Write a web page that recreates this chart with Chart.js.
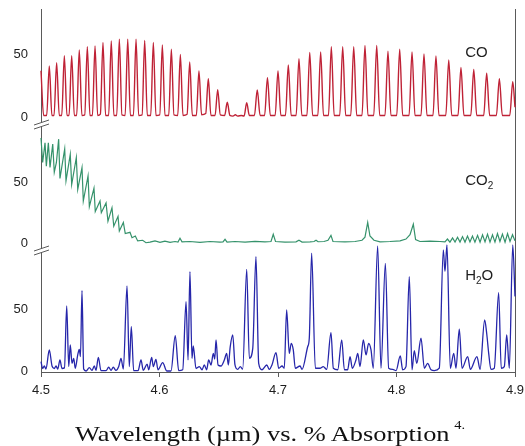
<!DOCTYPE html>
<html><head><meta charset="utf-8">
<script src="https://cdn.jsdelivr.net/npm/chart.js@4.4.1/dist/chart.umd.min.js"></script>
<style>
html,body{margin:0;padding:0;background:#fff;}
#wrap{position:relative;width:525px;height:446px;overflow:hidden;background:#fff;}
#chart{position:absolute;left:0;top:0;}
#caption{position:absolute;left:75px;top:423px;font-family:"Liberation Serif","Times New Roman",serif;font-size:22px;line-height:22px;color:#111;white-space:nowrap;transform:scaleX(1.2);transform-origin:0 0;}
#caption sup{font-size:12px;line-height:0;vertical-align:12px;margin-left:4px;}
</style></head>
<body>
<div id="wrap">
<canvas id="chart" width="525" height="446" style="width:525px;height:446px"></canvas>
<div id="caption">Wavelength (µm) vs. % Absorption<sup>4.</sup></div>
</div>
<script>
// ---- data: [wavelength (µm), % absorption] ----
const xTicks = [4.5, 4.6, 4.7, 4.8, 4.9];
const yTicks = [0, 50];

const coPoints = [
[4.5000,37],[4.5022,1.5],[4.5048,1.5],[4.5070,40.7],[4.5092,1.5],
[4.5110,1.5],[4.5132,43.4],[4.5154,1.5],[4.5175,1.5],[4.5197,49],[4.5219,1.5],
[4.5237,1.5],[4.5259,49],[4.5281,1.5],[4.5301,1.5],[4.5323,53.4],[4.5345,1.5],
[4.5369,2],[4.5391,56],[4.5413,1.5],[4.5434,1.5],[4.5456,56.6],[4.5478,1.5],
[4.5501,2.5],[4.5523,59.5],[4.5545,1.5],[4.5571,1.5],[4.5593,60.6],[4.5615,1.5],
[4.5639,1.5],[4.5661,62],[4.5683,2],[4.5710,1.5],[4.5732,62],[4.5754,1.5],
[4.5780,1.5],[4.5802,62],[4.5824,1.5],[4.5853,2],[4.5875,61],[4.5897,1.5],
[4.5926,1.5],[4.5948,59.5],[4.5970,1.5],[4.6002,2],[4.6024,57.4],[4.6046,1.5],
[4.6078,1.5],[4.6100,54],[4.6122,2],[4.6154,1.5],[4.6176,50],[4.6198,1.5],
[4.6233,2.5],[4.6255,44],[4.6277,1.5],[4.6311,1.5],[4.6333,36.8],[4.6355,2],
[4.6390,3],[4.6412,30.7],[4.6434,1.5],[4.6469,1.5],[4.6491,22],[4.6513,2],
[4.6550,1.5],[4.6572,12],[4.6594,1.5],[4.6620,1],[4.6640,2],[4.6660,1],[4.6690,1.5],
[4.6714,1],[4.6736,11.6],[4.6758,1.5],[4.6801,1.5],[4.6825,21.7],[4.6849,1.5],
[4.6887,1.5],[4.6911,31.5],[4.6935,1.5],[4.6976,1.5],[4.7000,36.8],[4.7024,1.5],
[4.7063,1.5],[4.7087,41.5],[4.7111,1.5],[4.7153,1.5],[4.7177,46.6],[4.7201,1.5],
[4.7244,1.5],[4.7268,51.6],[4.7292,1.5],[4.7336,1.5],[4.7360,52],[4.7384,1.5],
[4.7426,1.5],[4.7450,56],[4.7474,1.5],[4.7521,1.5],[4.7546,56],[4.7571,1.5],
[4.7614,1.5],[4.7639,56],[4.7664,1.5],[4.7709,1.5],[4.7734,57],[4.7759,1.5],
[4.7808,1.5],[4.7833,57],[4.7858,1.5],[4.7903,1.5],[4.7928,52.6],[4.7953,1.5],
[4.8002,1.5],[4.8027,54],[4.8052,1.5],[4.8106,1.5],[4.8131,52],[4.8156,1.5],
[4.8207,1.5],[4.8232,50.3],[4.8257,1.5],[4.8308,1.5],[4.8333,48.7],[4.8358,1.5],
[4.8416,1.5],[4.8441,45.5],[4.8466,1.5],[4.8519,1.5],[4.8544,39.7],[4.8569,1.5],
[4.8627,1.5],[4.8652,38],[4.8677,1.5],[4.8736,1.5],[4.8761,35],[4.8786,1.5],
[4.8843,1.5],[4.8868,30.7],[4.8893,1.5],[4.8956,1.5],[4.8981,28.3],[4.9000,8]
];

const co2Points = [
[4.5000,86],[4.5014,66],[4.5034,82],[4.5045,63],[4.5062,82],[4.5076,62],[4.5099,81],
[4.5112,58],[4.5130,66],[4.5149,85],[4.5160,53],[4.5200,77],[4.5211,51],[4.5247,72.6],
[4.5259,48],[4.5298,70],[4.5310,44],[4.5346,61.7],[4.5357,34.5],[4.5397,55],[4.5408,30],
[4.5447,45],[4.5458,26],[4.5498,34.5],[4.5509,25],[4.5549,33],[4.5565,18],[4.5599,29],
[4.5614,14],[4.5650,22],[4.5661,10],[4.5695,17],[4.5711,8],[4.5751,9],[4.5768,4.6],
[4.5796,6],[4.5816,2],[4.5858,2.5],[4.5886,0.5],[4.5920,1],[4.5962,2],[4.6004,0.8],
[4.6046,1.8],[4.6089,0.8],[4.6131,1.5],[4.6156,1],[4.6173,4.1],[4.6190,1.2],[4.6257,1.5],
[4.6342,0.8],[4.6426,1.5],[4.6511,1],[4.6536,1.2],[4.6553,3.3],[4.6570,1],[4.6637,1.5],
[4.6722,1],[4.6806,1.6],[4.6890,1.2],[4.6941,1.5],[4.6960,7.4],[4.6979,1.5],[4.7059,1],
[4.7152,1.2],[4.7177,2.6],[4.7203,1],[4.7270,1.2],[4.7304,1.5],[4.7321,2.6],[4.7338,1.3],
[4.7388,1.5],[4.7422,2.5],[4.7447,6.5],[4.7464,1.5],[4.7565,1.2],[4.7650,1.5],[4.7709,2.5],
[4.7734,5],[4.7757,17],[4.7776,6],[4.7810,2.5],[4.7861,1.2],[4.7945,1.5],[4.8030,2],
[4.8080,3.5],[4.8114,7],[4.8142,15.6],[4.8161,3],[4.8198,1.5],[4.8283,1.8],[4.8367,1.5],
[4.8409,1.2],[4.8430,3.5],[4.8451,1],[4.8473,4.5],[4.8494,1],[4.8515,5],[4.8536,1],
[4.8557,5.5],[4.8578,1],[4.8599,6],[4.8620,1.2],[4.8641,6],[4.8662,1],[4.8684,6.5],
[4.8705,1],[4.8726,7],[4.8747,1.2],[4.8768,7.5],[4.8789,1],[4.8810,7],[4.8831,1],
[4.8852,8],[4.8873,1.5],[4.8894,7.5],[4.8916,1],[4.8937,8],[4.8958,1.5],[4.8979,7],[4.9000,2]
];

const h2oPoints = [
[4.5000,8],[4.5014,2.5],[4.5028,4.5],[4.5042,2],[4.5070,17.3],[4.5093,4.5],[4.5112,2.5],
[4.5127,4.5],[4.5141,2],[4.5160,9.3],[4.5177,2.5],[4.5198,3],[4.5217,52.4],[4.5234,4],
[4.5247,21.3],[4.5262,6.6],[4.5276,10.6],[4.5289,2.7],[4.5310,13.3],[4.5323,17.8],[4.5333,12],
[4.5346,64.6],[4.5360,2],[4.5380,0.5],[4.5408,3.2],[4.5430,1],[4.5450,4.5],[4.5464,1],
[4.5484,11.4],[4.5506,0.8],[4.5549,0.8],[4.5571,3.5],[4.5591,1],[4.5610,3.5],[4.5633,1],
[4.5656,4],[4.5675,10.6],[4.5695,2],[4.5726,68.4],[4.5745,4],[4.5762,35.9],[4.5782,0.8],
[4.5819,0.8],[4.5844,9.3],[4.5863,1],[4.5895,6],[4.5909,1.5],[4.5934,11.4],[4.5948,4],
[4.5970,9.8],[4.5987,1.5],[4.6027,7.2],[4.6061,0.5],[4.6097,0.5],[4.6133,28.7],[4.6162,0.8],
[4.6196,1.5],[4.6224,55.9],[4.6241,9.3],[4.6257,79.8],[4.6274,10.6],[4.6285,20.5],[4.6308,2.5],
[4.6336,4],[4.6359,1.5],[4.6378,5.3],[4.6398,1.5],[4.6415,9.3],[4.6435,5.3],[4.6454,14.6],
[4.6466,10],[4.6477,25.3],[4.6494,5.3],[4.6519,4.5],[4.6547,9.3],[4.6567,14.6],[4.6581,5.3],
[4.6597,20],[4.6618,29.3],[4.6637,5.3],[4.6660,1.8],[4.6682,4],[4.6702,2],[4.6736,81.6],
[4.6758,10.6],[4.6787,18.6],[4.6814,91.8],[4.6837,6.6],[4.6865,1.5],[4.6905,5.3],[4.6927,1.8],
[4.6949,5.3],[4.6983,15.2],[4.7006,2.7],[4.7034,4.5],[4.7053,2.7],[4.7073,49.2],[4.7095,14.6],
[4.7112,22.6],[4.7129,17.3],[4.7146,2.7],[4.7186,4.5],[4.7203,1.8],[4.7251,20],[4.7264,26.6],
[4.7284,94.4],[4.7315,2.7],[4.7354,2.7],[4.7382,4],[4.7411,1.8],[4.7447,31.1],[4.7467,2.7],
[4.7504,1.5],[4.7538,25.3],[4.7560,1.5],[4.7588,1.5],[4.7608,12],[4.7627,2.7],[4.7658,9.3],
[4.7673,14.6],[4.7692,4],[4.7720,25.3],[4.7743,13.3],[4.7765,22.6],[4.7785,17.3],[4.7804,2.7],
[4.7841,100.3],[4.7869,2.7],[4.7906,86.4],[4.7934,2.7],[4.7968,1.8],[4.7996,0.8],[4.8032,12.5],
[4.8052,1.5],[4.8080,4],[4.8108,75.8],[4.8131,1.5],[4.8150,16.8],[4.8171,6.6],[4.8207,26.6],
[4.8235,2.7],[4.8263,6.6],[4.8291,1.5],[4.8319,0.8],[4.8361,2.7],[4.8395,97],[4.8409,80],
[4.8426,101],[4.8454,2.7],[4.8483,14.6],[4.8502,2.7],[4.8530,33.8],[4.8553,2.7],[4.8601,12],
[4.8623,1.8],[4.8679,12],[4.8705,1.8],[4.8744,41.2],[4.8761,30.6],[4.8778,14.6],[4.8797,1.8],
[4.8825,2.7],[4.8862,63],[4.8884,2.7],[4.8910,4],[4.8930,29.3],[4.8952,2.7],[4.8981,101],[4.9000,60]
];

// series name labels: [text, isSubscript] parts, anchored in data coordinates
const seriesLabels = [
  {axis:'yCO',  x:4.858, y:47.6, parts:[['CO',false]]},
  {axis:'yCO2', x:4.858, y:47.5, parts:[['CO',false],['2',true]]},
  {axis:'yH2O', x:4.858, y:72.7, parts:[['H',false],['2',true],['O',false]]}
];

// ---- styling ----
const FONT = '"Liberation Sans", Arial, Helvetica, sans-serif';
const AXIS = '#5a5a5a';
const TEXT = '#1e1e1e';
const COLORS = {co:'#bf2236', co2:'#35926b', h2o:'#2626aa'};

const toXY = arr => arr.map(([x, y]) => ({x, y}));

function yPanel(min, max, weight, stackWeight) {
  return {
    type:'linear', position:'left', stack:'panels', stackWeight, weight, min, max,
    afterBuildTicks: s => { s.ticks = yTicks.map(v => ({value:v})); },
    afterFit: s => { s.width = 41; s.paddingTop = 0; s.paddingBottom = 0; },
    ticks:{font:{family:FONT, size:13}, color:TEXT, padding:13},
    grid:{display:false, drawTicks:false},
    border:{display:true, color:AXIS, width:1}
  };
}

const decor = {
  id:'decor',
  afterDraw(chart) {
    const ctx = chart.ctx;
    const left = chart.chartArea.left;
    // axis breaks between panels
    [chart.scales.yCO.bottom, chart.scales.yCO2.bottom].forEach(b => {
      const yc = b + 2;
      ctx.save();
      ctx.fillStyle = '#fff';
      ctx.beginPath();
      ctx.moveTo(left - 7, yc + 1); ctx.lineTo(left + 8, yc - 4);
      ctx.lineTo(left + 8, yc); ctx.lineTo(left - 7, yc + 5); ctx.closePath();
      ctx.fill();
      ctx.strokeStyle = AXIS; ctx.lineWidth = 1;
      ctx.beginPath();
      ctx.moveTo(left - 7, yc + 1); ctx.lineTo(left + 8, yc - 4);
      ctx.moveTo(left - 7, yc + 5); ctx.lineTo(left + 8, yc);
      ctx.stroke();
      ctx.restore();
    });
    // series labels
    const xs = chart.scales.x;
    seriesLabels.forEach(l => {
      const sc = chart.scales[l.axis];
      let px = xs.getPixelForValue(l.x);
      const py = sc.getPixelForValue(l.y);
      ctx.save();
      ctx.fillStyle = TEXT; ctx.textAlign = 'left'; ctx.textBaseline = 'alphabetic';
      l.parts.forEach(([t, sub]) => {
        ctx.font = (sub ? '10px ' : '15px ') + FONT;
        ctx.fillText(t, px, sub ? py + 4 : py);
        px += ctx.measureText(t).width;
      });
      ctx.restore();
    });
  }
};

const lineDs = (label, pts, axis, color, width, smooth) => ({
  label, data: toXY(pts), yAxisID: axis, borderColor: color, backgroundColor: color,
  borderWidth: width, pointRadius: 0, fill: false,
  cubicInterpolationMode: smooth ? 'monotone' : 'default', tension: 0,
  clip: {left: 1, right: 1, top: 6, bottom: 2}
});

new Chart(document.getElementById('chart'), {
  type:'line',
  data:{datasets:[
    lineDs('CO', coPoints, 'yCO', COLORS.co, 1.4, true),
    lineDs('CO2', co2Points, 'yCO2', COLORS.co2, 1.2, false),
    lineDs('H2O', h2oPoints, 'yH2O', COLORS.h2o, 1.3, true)
  ]},
  options:{
    responsive:false, animation:false, devicePixelRatio:1,
    layout:{padding:{left:0, top:9, right:10, bottom:46}},
    plugins:{legend:{display:false}, tooltip:{enabled:false}, title:{display:false}},
    scales:{
      x:{
        type:'linear', min:4.5, max:4.9,
        afterBuildTicks: s => { s.ticks = xTicks.map(v => ({value:v})); },
        afterFit: s => { s.height = 28; s.paddingLeft = 0; s.paddingRight = 0; },
        ticks:{font:{family:FONT, size:13}, color:TEXT, padding:6, maxRotation:0, callback:v => v.toFixed(1)},
        grid:{display:true, drawOnChartArea:false, drawTicks:true, tickLength:5, color:AXIS},
        border:{display:true, color:AXIS, width:1}
      },
      yH2O: yPanel(-0.3, 98.6, 1, 124),
      yCO2: yPanel(-3.8, 99.0, 2, 126),
      yCO:  yPanel(-3.7, 86.0, 3, 113),
      yRight:{
        type:'linear', position:'right', min:0, max:1,
        afterFit: s => { s.width = 0; s.paddingTop = 0; s.paddingBottom = 0; },
        ticks:{display:false}, grid:{display:false, drawTicks:false},
        border:{display:true, color:AXIS, width:1}
      }
    }
  },
  plugins:[decor]
});
</script>
</body></html>
